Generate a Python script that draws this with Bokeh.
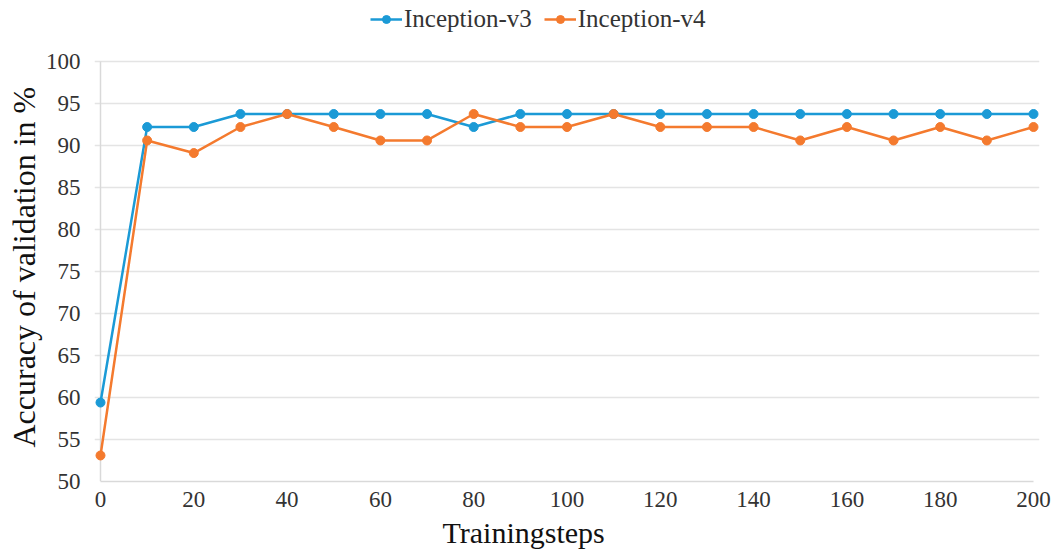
from bokeh.plotting import figure
from bokeh.models import Legend, LegendItem, FixedTicker, Range1d, Title
from bokeh.embed import file_html
from bokeh.resources import INLINE

steps = [0, 10, 20, 30, 40, 50, 60, 70, 80, 90, 100, 110, 120, 130, 140, 150, 160, 170, 180, 190, 200]
inception_v3 = [59.4, 92.2, 92.2, 93.75, 93.75, 93.75, 93.75, 93.75, 92.2, 93.75, 93.75,
                93.75, 93.75, 93.75, 93.75, 93.75, 93.75, 93.75, 93.75, 93.75, 93.75]
inception_v4 = [53.1, 90.6, 89.1, 92.2, 93.75, 92.2, 90.6, 90.6, 93.75, 92.2, 92.2,
                93.75, 92.2, 92.2, 92.2, 90.6, 92.2, 90.6, 92.2, 90.6, 92.2]
x_ticks = [0, 20, 40, 60, 80, 100, 120, 140, 160, 180, 200]
y_ticks = [50, 55, 60, 65, 70, 75, 80, 85, 90, 95, 100]

FONT = "Liberation Serif"
BLUE = "#1B9AD6"
ORANGE = "#F47A2E"
AXIS_GREY = "#d9d9d9"

PX_X = 933 / 200
PAD = 6 / PX_X
Y_TOP = 100 + 61 / 8.4

p = figure(width=1060, height=558, output_backend="svg", toolbar_location=None,
           x_range=Range1d(-PAD, 200 + PAD), y_range=Range1d(50, Y_TOP),
           min_border_left=94, min_border_right=21, min_border_top=0, min_border_bottom=77)
p.outline_line_color = None

p.xgrid.grid_line_color = None
p.ygrid.grid_line_color = "#e4e4e4"
p.ygrid.grid_line_width = 1.5
p.ygrid.bounds = (x_ticks[0], x_ticks[-1])

# vertical axis line at x = 0 (the frame is padded a little so end markers are not clipped)
p.segment(x0=[x_ticks[0]], y0=[y_ticks[0]], x1=[x_ticks[0]], y1=[y_ticks[-1]],
          line_color=AXIS_GREY, line_width=1.5)

l3 = p.line(steps, inception_v3, line_color=BLUE, line_width=2.5)
c3 = p.scatter(steps, inception_v3, size=9, fill_color=BLUE, line_color=BLUE)
l4 = p.line(steps, inception_v4, line_color=ORANGE, line_width=2.5)
c4 = p.scatter(steps, inception_v4, size=9, fill_color=ORANGE, line_color=ORANGE)

p.xaxis.ticker = FixedTicker(ticks=x_ticks)
p.yaxis.ticker = FixedTicker(ticks=y_ticks)
p.yaxis.bounds = (50, 100)
p.xaxis.bounds = (0, 200)
for ax in (p.xaxis[0], p.yaxis[0]):
    ax.major_tick_line_color = None
    ax.minor_tick_line_color = None
    ax.axis_line_color = AXIS_GREY
    ax.axis_line_width = 1.5
    ax.major_label_text_font = FONT
    ax.major_label_text_font_size = "23px"
    ax.major_label_text_color = "#333333"
p.yaxis.axis_line_color = None
p.xaxis.major_label_standoff = 4
p.yaxis.major_label_standoff = 8

ytitle = Title(text="Accuracy of validation in %", align="left", offset=34,
               text_font=FONT, text_font_size="32px", text_font_style="normal",
               text_color="#111111", standoff=2)
p.add_layout(ytitle, "left")
xtitle = Title(text="Trainingsteps", align="left", offset=348,
               text_font=FONT, text_font_size="30px", text_font_style="normal",
               text_color="#111111", standoff=9)
p.add_layout(xtitle, "below")

legend = Legend(items=[LegendItem(label="Inception-v3", renderers=[l3, c3]),
                       LegendItem(label="Inception-v4", renderers=[l4, c4])],
                orientation="horizontal", location=(276, 448),
                label_text_font=FONT, label_text_font_size="25px", label_text_color="#333333",
                border_line_color=None, background_fill_alpha=0,
                glyph_width=32, glyph_height=20, label_standoff=2, spacing=12, padding=0, margin=0)
p.add_layout(legend, "center")

open("out.html", "w").write(file_html(p, INLINE))
